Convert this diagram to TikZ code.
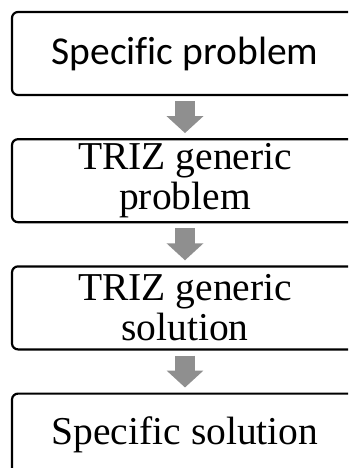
\documentclass[tikz,border=0pt]{standalone}
\usepackage{fontspec}
\setmainfont[Ligatures=NoCommon]{Liberation Serif}
\newfontfamily\calibri[Ligatures=NoCommon]{Carlito}
\usepackage{tikz}
\usetikzlibrary{positioning,arrows.meta}
\definecolor{arrowgray}{RGB}{143,143,143}

\begin{document}
\begin{tikzpicture}[x=1pt,y=-1pt,node distance=42pt]
\tikzstyle{S}=[draw,line width=2.2pt,rounded corners=6pt,minimum width=346pt,minimum height=83pt,align=center,inner sep=0pt,font=\fontsize{39.5}{40}\selectfont]
\tikzstyle{A}=[arrowgray,line width=20pt,-{Triangle[width=36pt,length=17pt]},shorten <=5pt,shorten >=5pt]
\useasboundingbox (0,0) rectangle (348,468);
\clip (0,0) rectangle (348,468);
\node[S,font=\calibri\fontsize{39.5}{41}\selectfont] (sprob) at (185,53.5) {Specific problem};
\node[S,below=of sprob] (gprob) {TRIZ generic\\problem};
\node[S,below=of gprob] (gsol) {TRIZ generic\\solution};
\node[S,below=of gsol] (ssol) {Specific solution};
\draw[A] (sprob)--(gprob); \draw[A] (gprob)--(gsol);
\draw[A] (gsol)--(ssol);
\end{tikzpicture}
\end{document}
